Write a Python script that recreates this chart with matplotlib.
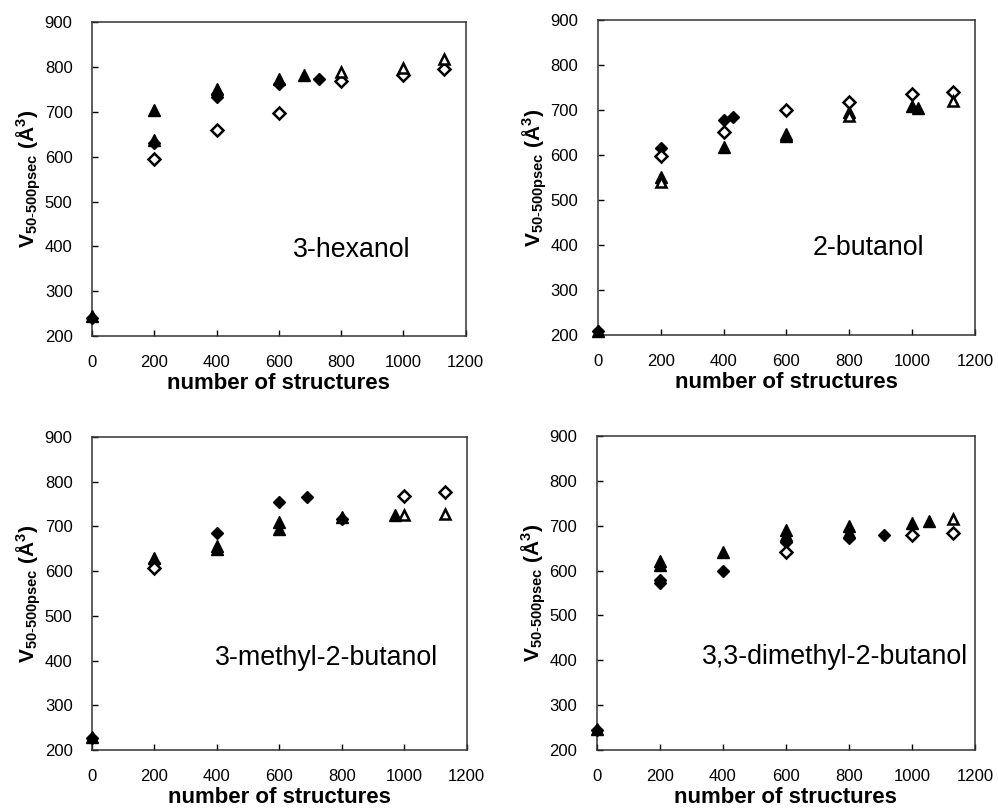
import matplotlib
matplotlib.use("Agg")
import matplotlib.pyplot as plt

plt.rcParams["font.family"] = ["Liberation Sans", "DejaVu Sans"]
plt.rcParams["mathtext.fontset"] = "custom"
plt.rcParams["mathtext.rm"] = "Liberation Sans"
plt.rcParams["mathtext.bf"] = "Liberation Sans:bold"
plt.rcParams["mathtext.it"] = "Liberation Sans:italic"

# nomes das moleculas (um painel por molecula)
moleculas = ["3-hexanol", "2-butanol", "3-methyl-2-butanol", "3,3-dimethyl-2-butanol"]

# 3-hexanol
hex_losango_cheio_x = [0, 200, 400, 400, 600, 730]
hex_losango_cheio_y = [240, 630, 740, 733, 763, 773]
hex_triangulo_cheio_x = [0, 200, 200, 400, 600, 680]
hex_triangulo_cheio_y = [245, 637, 705, 752, 774, 783]
hex_losango_vazio_x = [200, 400, 600, 800, 1000, 1130]
hex_losango_vazio_y = [596, 661, 698, 769, 783, 797]
hex_triangulo_vazio_x = [800, 1000, 1130]
hex_triangulo_vazio_y = [789, 798, 819]

# 2-butanol
but_losango_cheio_x = [0, 200, 400, 430]
but_losango_cheio_y = [208, 615, 679, 684]
but_triangulo_cheio_x = [0, 200, 400, 600, 600, 800, 1000, 1020]
but_triangulo_cheio_y = [210, 552, 618, 648, 643, 696, 709, 704]
but_losango_vazio_x = [200, 400, 600, 800, 1000, 1130]
but_losango_vazio_y = [598, 652, 700, 718, 735, 741]
but_triangulo_vazio_x = [200, 800, 1130]
but_triangulo_vazio_y = [541, 687, 720]

# 3-methyl-2-butanol
met_losango_cheio_x = [0, 200, 400, 600, 690, 800]
met_losango_cheio_y = [226, 619, 686, 755, 765, 716]
met_triangulo_cheio_x = [0, 200, 400, 400, 600, 600, 800, 970]
met_triangulo_cheio_y = [230, 630, 656, 650, 709, 694, 721, 725]
met_losango_vazio_x = [200, 1000, 1130]
met_losango_vazio_y = [606, 767, 778]
met_triangulo_vazio_x = [1000, 1130]
met_triangulo_vazio_y = [725, 727]

# 3,3-dimethyl-2-butanol
dim_losango_cheio_x = [0, 200, 200, 400, 600, 800, 910]
dim_losango_cheio_y = [244, 579, 572, 600, 665, 672, 680]
dim_triangulo_cheio_x = [0, 200, 200, 400, 600, 600, 800, 800, 1000, 1055]
dim_triangulo_cheio_y = [247, 622, 613, 642, 691, 680, 700, 687, 707, 710]
dim_losango_vazio_x = [600, 1000, 1130]
dim_losango_vazio_y = [642, 680, 685]
dim_triangulo_vazio_x = [1130]
dim_triangulo_vazio_y = [715]

x_ticks = [0, 200, 400, 600, 800, 1000, 1200]
y_ticks = [200, 300, 400, 500, 600, 700, 800, 900]

paineis = [
    (hex_losango_cheio_x, hex_losango_cheio_y, hex_triangulo_cheio_x, hex_triangulo_cheio_y,
     hex_losango_vazio_x, hex_losango_vazio_y, hex_triangulo_vazio_x, hex_triangulo_vazio_y),
    (but_losango_cheio_x, but_losango_cheio_y, but_triangulo_cheio_x, but_triangulo_cheio_y,
     but_losango_vazio_x, but_losango_vazio_y, but_triangulo_vazio_x, but_triangulo_vazio_y),
    (met_losango_cheio_x, met_losango_cheio_y, met_triangulo_cheio_x, met_triangulo_cheio_y,
     met_losango_vazio_x, met_losango_vazio_y, met_triangulo_vazio_x, met_triangulo_vazio_y),
    (dim_losango_cheio_x, dim_losango_cheio_y, dim_triangulo_cheio_x, dim_triangulo_cheio_y,
     dim_losango_vazio_x, dim_losango_vazio_y, dim_triangulo_vazio_x, dim_triangulo_vazio_y),
]

# posicao de cada eixo na figura [esq, baixo, largura, altura]
posicoes = [
    [0.0922, 0.5847, 0.3745, 0.3875],
    [0.5990, 0.5859, 0.3780, 0.3890],
    [0.0922, 0.0729, 0.3755, 0.3870],
    [0.5980, 0.0735, 0.3790, 0.3870],
]
# onde fica o nome da molecula (coordenadas de dados)
pos_nome = [(644, 377), (683, 378), (393, 390), (334, 391)]

fig = plt.figure(figsize=(9.98, 8.09), dpi=100)

for i, dados in enumerate(paineis):
    lcx, lcy, tcx, tcy, lvx, lvy, tvx, tvy = dados
    ax = fig.add_axes(posicoes[i])
    ax.plot(lcx, lcy, "D", color="black", markersize=6.5, clip_on=False, zorder=3)
    ax.plot(tcx, tcy, "^", color="black", markersize=8, clip_on=False, zorder=3)
    ax.plot(lvx, lvy, "D", mfc="white", mec="black", mew=1.8, markersize=6.5,
            clip_on=False, zorder=4)
    ax.plot(tvx, tvy, "^", mfc="white", mec="black", mew=1.8, markersize=7.5,
            clip_on=False, zorder=4)

    ax.set_xlim(0, 1200)
    ax.set_ylim(200, 900)
    ax.set_xticks(x_ticks)
    ax.set_yticks(y_ticks)
    ax.tick_params(direction="in", length=4, width=1, labelsize=12, pad=14,
                   top=False, right=False)
    for s in ax.spines.values():
        s.set_linewidth(1.1)
        s.set_color("#333333")

    ax.set_xlabel("number of structures", fontsize=16, fontweight="bold", labelpad=2)
    ax.set_ylabel(r"$\mathbf{V}_{\mathbf{50\text{-}500psec}}\ \mathbf{(\AA^3)}$",
                  fontsize=15, labelpad=1)

    nx, ny = pos_nome[i]
    ax.text(nx, ny, moleculas[i], fontsize=19.3, ha="left", va="baseline")

fig.savefig("out.png", dpi=100)
